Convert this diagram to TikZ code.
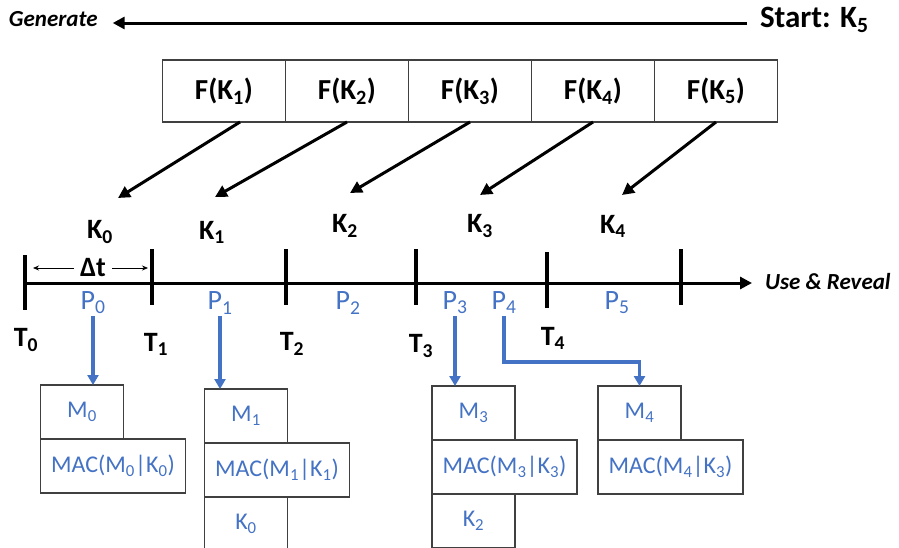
\documentclass[tikz,border=0pt]{standalone}
\usepackage{fontspec}
\setmainfont{Carlito}
\usetikzlibrary{arrows.meta, positioning}
\definecolor{revealblue}{RGB}{68,114,196}
\definecolor{boxline}{RGB}{64,64,64}
\newcommand{\low}[1]{\textsubscript{#1}}

\begin{document}
\begin{tikzpicture}[
        x=1pt, y=-1pt,
        every node/.style={inner sep=0pt, outer sep=0pt, align=center},
        fbox/.style={draw=boxline, line width=1.2pt, minimum width=123pt, minimum height=62pt, font=\fontsize{29}{34}\selectfont\bfseries},
        keytext/.style={font=\fontsize{28}{32}\selectfont\bfseries},
        sidetext/.style={font=\fontsize{23}{27}\selectfont\bfseries\itshape},
        ptext/.style={text=revealblue, font=\fontsize{28}{32}\selectfont},
        msgbox/.style={draw=boxline, line width=1.2pt, text=revealblue, minimum width=83pt, minimum height=54pt, font=\fontsize{24}{28}\selectfont},
        macbox/.style={msgbox, minimum width=145pt},
        arrow/.style={-{Triangle[length=12pt, width=12pt]}, line width=3pt},
        bluearrow/.style={-{Triangle[length=10pt, width=11pt]}, line width=3.4pt, draw=revealblue},
        timetick/.style={line width=3.5pt},
        dtarrow/.style={{Stealth[length=6pt, width=5pt]}-{Stealth[length=6pt, width=5pt]}, line width=0.8pt}
        ]
        \useasboundingbox (0,0) rectangle (899,547);


        % Key chain generation

        % Nodes
        \node[sidetext, anchor=west] (Generate) at (9,19) {Generate};
        \node[keytext, anchor=west, font=\fontsize{31}{36}\selectfont\bfseries] (Start) at (760,20) {Start: K\low{5}};
        \node[fbox] (F_K1) at (224,91) {F(K\low{1})};
        \node[fbox, right=0pt of F_K1] (F_K2) {F(K\low{2})};
        \node[fbox, right=0pt of F_K2] (F_K3) {F(K\low{3})};
        \node[fbox, right=0pt of F_K3] (F_K4) {F(K\low{4})};
        \node[fbox, right=0pt of F_K4] (F_K5) {F(K\low{5})};
        \node[keytext] (Key_0) at (100,232) {K\low{0}};
        \node[keytext] (Key_1) at (212,232) {K\low{1}};
        \node[keytext] (Key_2) at (345,226) {K\low{2}};
        \node[keytext] (Key_3) at (480,226) {K\low{3}};
        \node[keytext] (Key_4) at (613,226) {K\low{4}};
        \coordinate (Gen_0) at (118,198);
        \coordinate (Gen_1) at (215,197);
        \coordinate (Gen_2) at (350,193);
        \coordinate (Gen_3) at (480,195);
        \coordinate (Gen_4) at (622,195);

        \draw [arrow] ([yshift=-3pt]Start.west) ++(-13pt,0) -- ([xshift=15pt, yshift=-4pt]Generate.east);
        \draw [arrow] ([xshift=16pt]F_K1.south) -- (Gen_0);
        \draw [arrow] (F_K2.south) -- (Gen_1);
        \draw [arrow] (F_K3.south) -- (Gen_2);
        \draw [arrow] (F_K4.south) -- (Gen_3);
        \draw [arrow] (F_K5.south) -- (Gen_4);


        % Time line

        \coordinate (Tick_0) at (25,283);
        \coordinate (Tick_1) at (152,283);
        \coordinate (Tick_2) at (286,283);
        \coordinate (Tick_3) at (416,283);
        \coordinate (Tick_4) at (547,283);
        \coordinate (Tick_5) at (681,283);
        \coordinate (Line_end) at (752,283);
        \node[sidetext, anchor=west] (Reveal) at (765,282) {Use \& Reveal};

        \draw [arrow] (Tick_0) -- (Line_end);
        \draw [timetick] ([yshift=28pt]Tick_0) -- ([yshift=-27pt]Tick_0);
        \draw [timetick] ([yshift=34pt]Tick_1) -- ([yshift=-22pt]Tick_1);
        \draw [timetick] ([yshift=34pt]Tick_2) -- ([yshift=-22pt]Tick_2);
        \draw [timetick] ([yshift=34pt]Tick_3) -- ([yshift=-22pt]Tick_3);
        \draw [timetick] ([yshift=31pt]Tick_4) -- ([yshift=-25pt]Tick_4);
        \draw [timetick] ([yshift=34pt]Tick_5) -- ([yshift=-22pt]Tick_5);

        \coordinate (Dt_left) at (33,268);
        \coordinate (Dt_right) at (148,268);
        \draw [dtarrow] (Dt_left) -- (Dt_right);
        \node[keytext, fill=white, inner xsep=6pt] (Delta_t) at (93,268) {Δt};

        \node[keytext] (T_0) at (26,340) {T\low{0}};
        \node[keytext] (T_1) at (156,344) {T\low{1}};
        \node[keytext] (T_2) at (292,344) {T\low{2}};
        \node[keytext] (T_3) at (421,346) {T\low{3}};
        \node[keytext] (T_4) at (553,338) {T\low{4}};

        \node[ptext] (P_0) at (93,303) {P\low{0}};
        \node[ptext] (P_1) at (220,303) {P\low{1}};
        \node[ptext] (P_2) at (348,303) {P\low{2}};
        \node[ptext] (P_3) at (455,303) {P\low{3}};
        \node[ptext] (P_4) at (504,303) {P\low{4}};
        \node[ptext] (P_5) at (617,303) {P\low{5}};


        % Packets

        \node[msgbox] (Msg_0) at (82,412) {M\low{0}};
        \node[macbox, below right=0pt and 0pt of Msg_0.south west] (MAC_0) {MAC(M\low{0}|K\low{0})};
        \node[msgbox] (Msg_1) at (246,416) {M\low{1}};
        \node[macbox, below right=0pt and 0pt of Msg_1.south west] (MAC_1) {MAC(M\low{1}|K\low{1})};
        \node[msgbox, below right=0pt and 0pt of MAC_1.south west] (Old_key_1) {K\low{0}};
        \node[msgbox] (Msg_3) at (473.5,413) {M\low{3}};
        \node[macbox, below right=0pt and 0pt of Msg_3.south west] (MAC_3) {MAC(M\low{3}|K\low{3})};
        \node[msgbox, below right=0pt and 0pt of MAC_3.south west] (Old_key_3) {K\low{2}};
        \node[msgbox] (Msg_4) at (639.5,413) {M\low{4}};
        \node[macbox, below right=0pt and 0pt of Msg_4.south west] (MAC_4) {MAC(M\low{4}|K\low{3})};

        \draw [bluearrow] ([yshift=-2pt]P_0.south) -- (P_0.south |- Msg_0.north);
        \draw [bluearrow] ([yshift=-2pt]P_1.south) -- (P_1.south |- Msg_1.north);
        \draw [bluearrow] ([yshift=-2pt]P_3.south) -- (P_3.south |- Msg_3.north);
        \draw [bluearrow] ([yshift=-2pt]P_4.south) -- ++(0,46) -| (Msg_4.north);

\end{tikzpicture}
\end{document}
